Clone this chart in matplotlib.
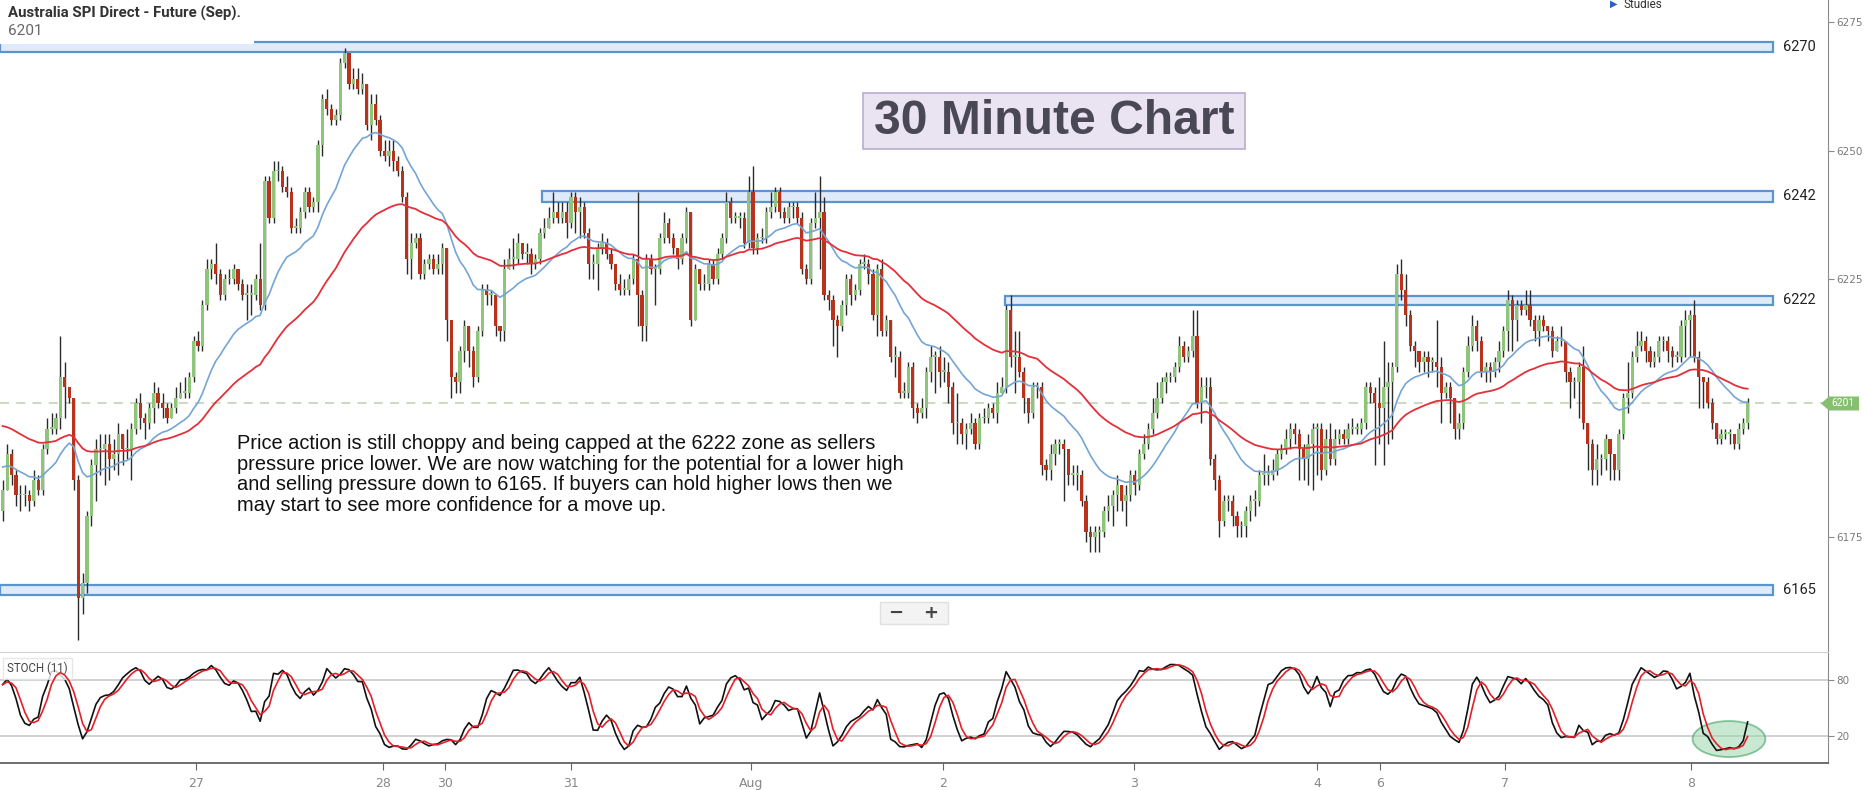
import numpy as np
import matplotlib.pyplot as plt
from matplotlib.patches import Rectangle, Ellipse, Polygon

# 30 minute candles (open = previous close)
first_open = 6180
closes = [
    6184, 6191, 6187, 6183, 6183, 6183, 6182, 6186, 6184, 6192, 6196, 6196, 6198, 6206,
    6204, 6202, 6186, 6163, 6166, 6179, 6189, 6192, 6192, 6193, 6190, 6191, 6195, 6192,
    6192, 6196, 6201, 6198, 6197, 6200, 6203, 6201, 6200, 6198, 6200, 6202, 6203, 6203,
    6206, 6213, 6212, 6220, 6227, 6228, 6226, 6222, 6225, 6225, 6227, 6224, 6222, 6222,
    6222, 6225, 6220, 6244, 6237, 6246, 6246, 6243, 6242, 6235, 6235, 6238, 6242, 6239,
    6240, 6251, 6260, 6258, 6256, 6257, 6267, 6269, 6263, 6264, 6262, 6263, 6255, 6259,
    6256, 6250, 6249, 6250, 6248, 6246, 6241, 6229, 6232, 6233, 6226, 6228, 6229, 6227,
    6228, 6231, 6217, 6206, 6205, 6211, 6216, 6211, 6206, 6215, 6223, 6222, 6222, 6216,
    6215, 6227, 6229, 6229, 6232, 6230, 6230, 6228, 6229, 6234, 6235, 6237, 6238, 6237,
    6238, 6236, 6241, 6238, 6239, 6234, 6228, 6228, 6231, 6232, 6230, 6228, 6224, 6223,
    6223, 6225, 6229, 6222, 6216, 6229, 6227, 6227, 6233, 6236, 6233, 6231, 6229, 6233,
    6238, 6217, 6227, 6224, 6224, 6228, 6225, 6230, 6233, 6240, 6237, 6237, 6237, 6232,
    6242, 6231, 6233, 6233, 6238, 6239, 6242, 6238, 6237, 6239, 6239, 6237, 6227, 6225,
    6236, 6237, 6238, 6222, 6221, 6217, 6216, 6220, 6225, 6222, 6223, 6228, 6228, 6226,
    6218, 6227, 6215, 6217, 6210, 6210, 6203, 6203, 6208, 6200, 6199, 6200, 6207, 6210,
    6210, 6207, 6207, 6204, 6197, 6197, 6195, 6196, 6197, 6193, 6198, 6198, 6200, 6199,
    6203, 6204, 6219, 6210, 6210, 6207, 6202, 6199, 6204, 6204, 6189, 6188, 6191, 6193,
    6193, 6192, 6187, 6187, 6187, 6182, 6176, 6175, 6176, 6176, 6180, 6181, 6183, 6185,
    6182, 6183, 6187, 6185, 6191, 6193, 6196, 6199, 6202, 6205, 6206, 6206, 6208, 6212,
    6210, 6211, 6214, 6201, 6204, 6204, 6190, 6186, 6178, 6182, 6182, 6179, 6177, 6177,
    6180, 6182, 6182, 6187, 6187, 6187, 6188, 6191, 6192, 6194, 6196, 6195, 6192, 6190,
    6193, 6196, 6196, 6188, 6194, 6190, 6194, 6195, 6194, 6196, 6196, 6196, 6197, 6204,
    6203, 6201, 6200, 6204, 6205, 6208, 6226, 6223, 6218, 6212, 6211, 6209, 6210, 6209,
    6209, 6208, 6203, 6204, 6202, 6196, 6197, 6207, 6212, 6216, 6213, 6207, 6208, 6207,
    6209, 6211, 6215, 6221, 6217, 6220, 6219, 6220, 6217, 6215, 6217, 6216, 6215, 6211,
    6213, 6213, 6207, 6205, 6205, 6208, 6197, 6193, 6188, 6190, 6190, 6194, 6191, 6188,
    6195, 6202, 6203, 6210, 6212, 6213, 6211, 6209, 6210, 6213, 6213, 6211, 6210, 6210,
    6216, 6217, 6218, 6210, 6206, 6205, 6201, 6197, 6194, 6195, 6195, 6195, 6193, 6196,
    6197, 6201,
]
highs = [
    6186, 6193, 6192, 6188, 6185, 6185, 6184, 6188, 6187, 6193, 6198, 6199, 6199, 6214,
    6209, 6204, 6196, 6187, 6168, 6180, 6190, 6194, 6195, 6195, 6195, 6194, 6197, 6195,
    6196, 6197, 6202, 6203, 6199, 6201, 6205, 6204, 6203, 6201, 6201, 6204, 6205, 6206,
    6207, 6214, 6215, 6221, 6229, 6229, 6232, 6227, 6226, 6227, 6228, 6227, 6225, 6224,
    6224, 6226, 6232, 6245, 6245, 6248, 6248, 6247, 6245, 6243, 6237, 6239, 6243, 6243,
    6241, 6252, 6261, 6262, 6259, 6258, 6268, 6270, 6269, 6266, 6266, 6265, 6263, 6261,
    6261, 6257, 6252, 6252, 6252, 6249, 6247, 6242, 6234, 6234, 6234, 6229, 6230, 6230,
    6230, 6232, 6223, 6216, 6207, 6212, 6217, 6216, 6212, 6216, 6224, 6224, 6223, 6222,
    6216, 6229, 6231, 6233, 6234, 6232, 6232, 6231, 6230, 6235, 6237, 6239, 6242, 6240,
    6240, 6240, 6242, 6242, 6241, 6240, 6235, 6230, 6232, 6234, 6233, 6231, 6228, 6226,
    6225, 6226, 6230, 6242, 6223, 6230, 6230, 6228, 6234, 6238, 6237, 6234, 6231, 6234,
    6239, 6238, 6228, 6227, 6226, 6229, 6229, 6231, 6234, 6242, 6241, 6238, 6238, 6238,
    6245, 6247, 6234, 6235, 6239, 6242, 6243, 6243, 6239, 6240, 6240, 6240, 6238, 6228,
    6237, 6242, 6245, 6241, 6223, 6222, 6218, 6221, 6226, 6226, 6224, 6229, 6230, 6229,
    6227, 6228, 6229, 6218, 6217, 6212, 6211, 6205, 6209, 6209, 6201, 6202, 6208, 6212,
    6211, 6212, 6210, 6209, 6205, 6203, 6198, 6197, 6199, 6198, 6199, 6200, 6201, 6201,
    6205, 6206, 6220, 6222, 6215, 6215, 6208, 6202, 6205, 6205, 6205, 6190, 6193, 6194,
    6194, 6194, 6192, 6189, 6189, 6188, 6183, 6177, 6177, 6177, 6181, 6183, 6184, 6187,
    6185, 6185, 6188, 6188, 6192, 6195, 6197, 6202, 6205, 6206, 6207, 6207, 6209, 6214,
    6213, 6212, 6219, 6219, 6206, 6206, 6206, 6191, 6187, 6183, 6183, 6183, 6180, 6178,
    6181, 6183, 6184, 6188, 6191, 6189, 6190, 6192, 6193, 6196, 6197, 6197, 6196, 6193,
    6195, 6197, 6197, 6197, 6196, 6197, 6196, 6196, 6196, 6197, 6198, 6197, 6198, 6205,
    6205, 6204, 6206, 6213, 6209, 6209, 6228, 6229, 6226, 6219, 6213, 6211, 6211, 6211,
    6210, 6217, 6210, 6205, 6205, 6202, 6199, 6208, 6214, 6218, 6217, 6214, 6209, 6209,
    6210, 6213, 6216, 6223, 6222, 6221, 6221, 6223, 6223, 6218, 6218, 6218, 6216, 6216,
    6214, 6216, 6209, 6208, 6206, 6209, 6212, 6197, 6194, 6193, 6191, 6195, 6194, 6191,
    6196, 6203, 6209, 6211, 6215, 6215, 6214, 6212, 6211, 6214, 6214, 6214, 6212, 6211,
    6217, 6219, 6219, 6221, 6211, 6206, 6206, 6202, 6197, 6196, 6196, 6196, 6195, 6197,
    6198, 6202,
]
lows = [
    6178, 6184, 6185, 6181, 6180, 6181, 6180, 6181, 6183, 6183, 6191, 6195, 6195, 6196,
    6198, 6201, 6184, 6155, 6160, 6164, 6177, 6182, 6187, 6185, 6186, 6188, 6187, 6189,
    6190, 6186, 6195, 6196, 6194, 6196, 6197, 6200, 6198, 6197, 6198, 6199, 6202, 6202,
    6202, 6205, 6211, 6211, 6219, 6225, 6224, 6221, 6221, 6224, 6224, 6223, 6221, 6217,
    6218, 6221, 6219, 6219, 6236, 6236, 6244, 6242, 6241, 6234, 6234, 6234, 6237, 6238,
    6238, 6238, 6249, 6257, 6255, 6255, 6256, 6266, 6262, 6262, 6261, 6261, 6254, 6252,
    6255, 6249, 6248, 6247, 6246, 6245, 6240, 6226, 6225, 6231, 6225, 6225, 6227, 6226,
    6226, 6226, 6213, 6202, 6203, 6203, 6209, 6208, 6204, 6205, 6214, 6220, 6220, 6214,
    6213, 6213, 6227, 6227, 6228, 6229, 6228, 6226, 6227, 6228, 6233, 6235, 6236, 6236,
    6236, 6233, 6235, 6234, 6233, 6233, 6225, 6225, 6223, 6230, 6229, 6227, 6223, 6222,
    6222, 6222, 6224, 6216, 6213, 6213, 6226, 6220, 6226, 6232, 6232, 6230, 6227, 6228,
    6232, 6216, 6218, 6223, 6223, 6223, 6224, 6224, 6229, 6232, 6236, 6236, 6235, 6231,
    6231, 6230, 6230, 6232, 6232, 6237, 6238, 6237, 6236, 6236, 6237, 6236, 6226, 6224,
    6224, 6235, 6227, 6221, 6219, 6212, 6210, 6215, 6218, 6220, 6221, 6222, 6227, 6224,
    6217, 6214, 6214, 6214, 6209, 6206, 6202, 6202, 6202, 6198, 6197, 6198, 6198, 6205,
    6203, 6204, 6205, 6201, 6195, 6193, 6193, 6192, 6195, 6192, 6192, 6197, 6197, 6198,
    6197, 6203, 6203, 6208, 6203, 6206, 6199, 6197, 6198, 6202, 6187, 6186, 6186, 6189,
    6191, 6182, 6185, 6185, 6184, 6181, 6174, 6172, 6172, 6172, 6175, 6178, 6177, 6180,
    6180, 6177, 6182, 6183, 6184, 6190, 6192, 6195, 6198, 6201, 6203, 6205, 6205, 6207,
    6209, 6209, 6210, 6200, 6197, 6202, 6189, 6184, 6175, 6177, 6180, 6177, 6175, 6175,
    6175, 6178, 6179, 6181, 6185, 6185, 6186, 6187, 6190, 6191, 6192, 6193, 6186, 6186,
    6185, 6184, 6187, 6186, 6187, 6189, 6189, 6193, 6193, 6193, 6195, 6195, 6195, 6196,
    6201, 6189, 6193, 6189, 6193, 6194, 6207, 6221, 6216, 6211, 6208, 6207, 6207, 6206,
    6207, 6204, 6197, 6202, 6197, 6194, 6194, 6196, 6206, 6211, 6211, 6206, 6205, 6205,
    6206, 6207, 6210, 6211, 6211, 6213, 6218, 6218, 6216, 6213, 6212, 6215, 6213, 6210,
    6211, 6212, 6205, 6200, 6202, 6198, 6196, 6188, 6185, 6185, 6187, 6188, 6186, 6186,
    6186, 6194, 6199, 6202, 6209, 6211, 6209, 6208, 6208, 6209, 6211, 6209, 6208, 6209,
    6209, 6210, 6210, 6209, 6200, 6200, 6200, 6196, 6193, 6193, 6194, 6193, 6192, 6192,
    6195, 6196,
]

# moving averages: starting values read at the left edge
fast_ma_start = 6189
slow_ma_start = 6197

day_labels = ['27', '28', '30', '31', 'Aug', '2', '3', '4', '6', '7', '8']
day_pos = [43.6, 85.7, 99.6, 128.0, 168.6, 211.8, 254.7, 296.0, 310.2, 338.4, 380.3]

level_labels = ['6270', '6242', '6222', '6165']
level_lo = [6269.2, 6240.0, 6220.0, 6163.7]
level_hi = [6271.1, 6242.2, 6221.8, 6165.6]
level_start = [-0.6, 121.5, 225.8, -0.6]

last_price = 6201

note = ("Price action is still choppy and being capped at the 6222 zone as sellers\n"
        "pressure price lower. We are now watching for the potential for a lower high\n"
        "and selling pressure down to 6165. If buyers can hold higher lows then we\n"
        "may start to see more confidence for a move up.")


def ema(vals, n, seed):
    k = 2.0 / (n + 1)
    out = []
    prev = seed
    for v in vals:
        prev = prev + k * (v - prev)
        out.append(prev)
    return np.array(out)


def sma(vals, n):
    out = []
    for i in range(len(vals)):
        out.append(np.mean(vals[max(0, i - n + 1):i + 1]))
    return np.array(out)


c = np.array(closes, dtype=float)
o = np.concatenate([[first_open], c[:-1]])
h = np.maximum(np.array(highs, dtype=float), np.maximum(o, c))
l = np.minimum(np.array(lows, dtype=float), np.minimum(o, c))
x = np.arange(len(c))

fast_ma = ema(c, 20, fast_ma_start)
slow_ma = ema(c, 50, slow_ma_start)

# stochastic (11), slow %K and %D
fast_k = []
for i in range(len(c)):
    hh = h[max(0, i - 10):i + 1].max()
    ll = l[max(0, i - 10):i + 1].min()
    fast_k.append((c[i] - ll) / (hh - ll) * 100 if hh > ll else 50)
stoch_k = sma(np.array(fast_k), 3)
stoch_d = sma(stoch_k, 3)

W, H = 1864, 790
fig = plt.figure(figsize=(W / 100, H / 100), dpi=100)
fig.patch.set_facecolor('white')

ax = fig.add_axes([0, 1 - 652 / H, 1828 / W, 652 / H])
ax2 = fig.add_axes([0, 1 - 763 / H, 1828 / W, 111 / H], sharex=ax)

x_min, x_max = -0.6, 411.1
ax.set_xlim(x_min, x_max)
ax.set_ylim(6152.6, 6279.25)
ax2.set_ylim(-9.4, 110.1)

# level zones
for lab, lo, hi, xs in zip(level_labels, level_lo, level_hi, level_start):
    ax.add_patch(Rectangle((xs, lo), 398.7 - xs, hi - lo, facecolor='#dfeafa',
                           edgecolor='#5b95cf', lw=1.6, zorder=1))
    ax.text(401.0, (lo + hi) / 2, lab, fontsize=10.5, color='#222', va='center',
            ha='left', family='Roboto')

# last price dashed line
ax.plot([x_min, x_max], [last_price, last_price], color='#c8d7bb', lw=1.3,
        ls=(0, (5, 4)), zorder=1)

# candles
up = c >= o
ax.vlines(x, l, h, color='#2a2a2a', lw=1.0, zorder=3)
body_lo = np.minimum(o, c)
body_h = np.maximum(np.abs(c - o), 0.3)
ax.bar(x, body_h, bottom=body_lo, width=0.72,
       color=np.where(up, '#8dc57b', '#b8321c'), linewidth=0, zorder=4)

ax.plot(x, fast_ma, color='#74a5d4', lw=1.2, zorder=5)
ax.plot(x, slow_ma, color='#e3303a', lw=1.3, zorder=5)

# right price axis
for a in (ax, ax2):
    for s in ('left', 'top', 'bottom'):
        a.spines[s].set_visible(False)
    a.spines['right'].set_color('#8a8a8a')
    a.yaxis.tick_right()
    a.tick_params(axis='y', length=4, color='#8a8a8a', labelsize=7.5,
                  labelcolor='#7a7a7a', pad=2)
ax.set_yticks([6175, 6225, 6250, 6275])
ax.tick_params(axis='x', bottom=False, labelbottom=False)

# price tag
tag_px = [(1821, 403.5), (1829, 396.5), (1859, 396.5), (1859, 410.5), (1829, 410.5)]
fig.patches.append(Polygon([(px / W, 1 - py / H) for px, py in tag_px], closed=True,
                           transform=fig.transFigure, facecolor='#86bf70',
                           edgecolor='none', zorder=10))
fig.text(1843 / W, 1 - 403.5 / H, str(last_price), color='white', fontsize=7.5,
         ha='center', va='center', family='Roboto', zorder=11)

# stochastic panel
ax2.plot(x, stoch_k, color='#111111', lw=1.2, zorder=3)
ax2.plot(x, stoch_d, color='#e3202a', lw=1.2, zorder=4)
ax2.set_yticks([20, 80])
ax2.yaxis.grid(True, color='#c9c9c9', lw=1.2)
ax2.spines['top'].set_visible(True)
ax2.spines['top'].set_color('#d0d0d0')
ax2.spines['bottom'].set_visible(True)
ax2.spines['bottom'].set_color('#555555')
ax2.spines['bottom'].set_linewidth(1.2)
ax2.set_xticks(day_pos)
ax2.set_xticklabels(day_labels)
ax2.tick_params(axis='x', length=5, color='#666', labelsize=9, labelcolor='#888', pad=5)
ax2.add_patch(Ellipse((388.8, 16.4), 16.4, 38.8, facecolor='#9ed6ae', alpha=0.55,
                      edgecolor='#2f9a55', lw=1.3, zorder=2))
ax2.text(0.004, 0.85, 'STOCH (11)', transform=ax2.transAxes, fontsize=8.3, color='#444',
         family='Roboto', va='center', ha='left',
         bbox=dict(boxstyle='square,pad=0.35', facecolor='white', edgecolor='#e2e2e2',
                   alpha=0.8))

# header texts (white block hides the top band edge, as in the widget)
fig.patches.append(Rectangle((0, 1 - 44 / H), 254 / W, 44 / H, transform=fig.transFigure,
                             facecolor='white', edgecolor='none', zorder=4))
fig.text(8 / W, 1 - 13 / H, 'Australia SPI Direct - Future (Sep).', fontsize=10.8,
         fontweight='bold', color='#333', family='Roboto', va='center', zorder=6)
fig.text(8 / W, 1 - 31 / H, str(last_price), fontsize=11, color='#666',
         family='Roboto', va='center', zorder=6)
fig.text(1610 / W, 1 - 4 / H, '\u25B6', fontsize=7, color='#2a5fc8', va='center')
fig.text(1624 / W, 1 - 4 / H, 'Studies', fontsize=8.5, color='#333', family='Roboto',
         va='center')

# title box
fig.patches.append(Rectangle((863 / W, 1 - 149 / H), 382 / W, 56 / H,
                             transform=fig.transFigure, facecolor='#e9e3f2',
                             edgecolor='#b9abcf', lw=1.2, zorder=5))
fig.text(1054 / W, 1 - 121 / H, '30 Minute Chart', fontsize=34.6, fontweight='bold',
         color='#4a4756', family='Liberation Sans', ha='center', va='center', zorder=6)

# zoom buttons
fig.patches.append(Rectangle((880 / W, 1 - 624 / H), 68 / W, 22 / H,
                             transform=fig.transFigure, facecolor='#f3f3f3',
                             edgecolor='#e0e0e0', lw=1, zorder=5))
fig.text(896 / W, 1 - 613 / H, '\u2212', fontsize=13, fontweight='bold', color='#444',
         ha='center', va='center', zorder=6)
fig.text(931 / W, 1 - 613 / H, '+', fontsize=13, fontweight='bold', color='#444',
         ha='center', va='center', zorder=6)

# commentary
fig.text(237 / W, 1 - 434 / H, note, fontsize=14.4, color='#111', family='Liberation Sans',
         va='top', ha='left', linespacing=1.11)

fig.savefig('out.png', dpi=100)
